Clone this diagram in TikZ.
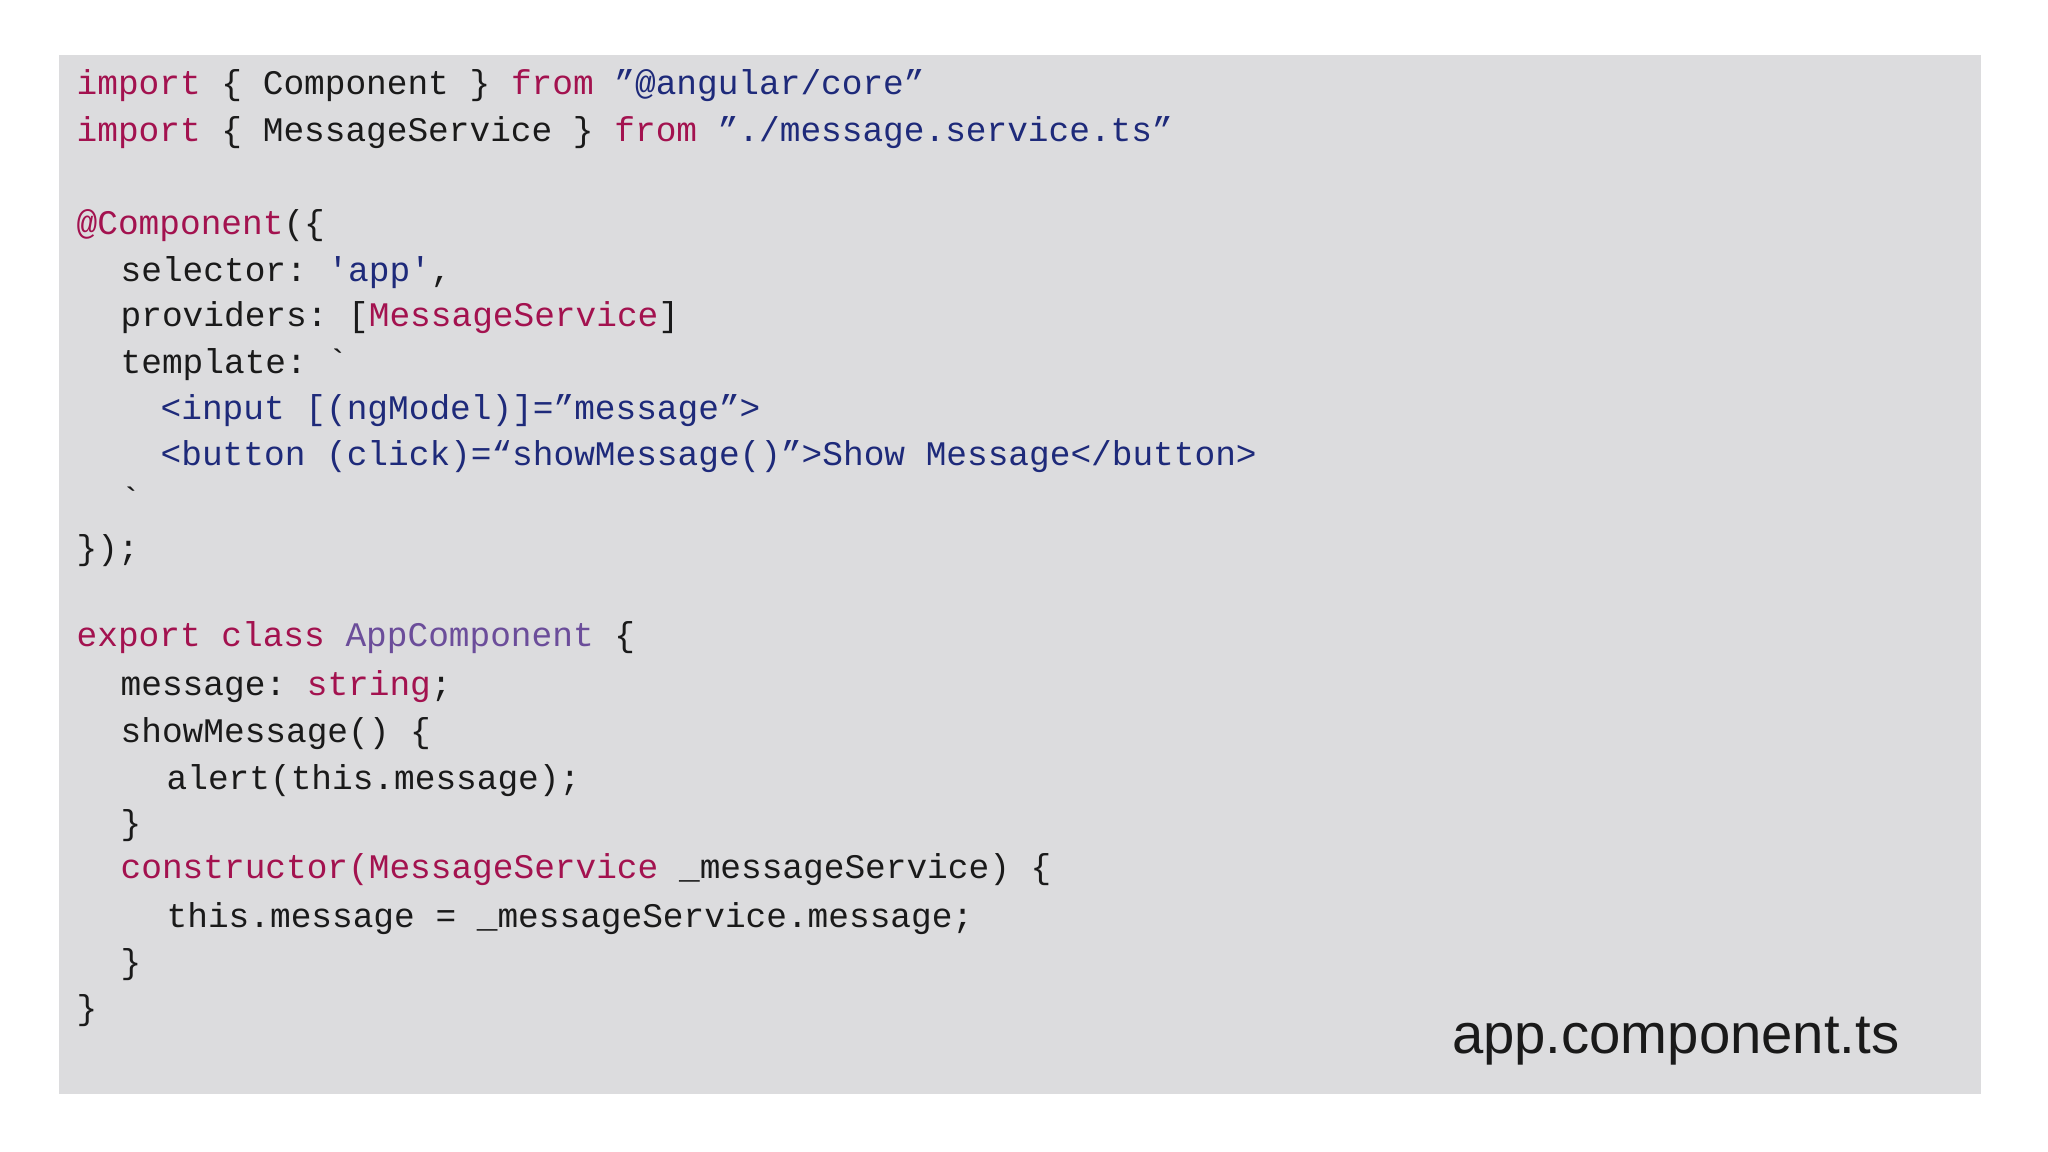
\documentclass[tikz,border=0pt]{standalone}
\usepackage{fontspec}
\setmainfont{Liberation Sans}
\setmonofont{Liberation Mono}
\usetikzlibrary{positioning}
\definecolor{panelgray}{HTML}{DCDCDE}
\definecolor{kwred}{HTML}{A3124F}
\definecolor{strblue}{HTML}{1E2A7A}
\definecolor{clspurple}{HTML}{6B4D9A}
\definecolor{codeblack}{HTML}{1A1A1A}
\newcommand{\kwd}[1]{\textcolor{kwred}{#1}}
\newcommand{\strg}[1]{\textcolor{strblue}{#1}}
\newcommand{\cls}[1]{\textcolor{clspurple}{#1}}

\begin{document}
\begin{tikzpicture}[
        x=0.01cm, y=0.01cm,
        code/.style = {anchor=base west, inner sep=0pt,
                       font=\ttfamily\fontsize{9.8}{11}\selectfont,
                       text=codeblack}
        ]
        \useasboundingbox (0,0) rectangle (2048,1152);
        \fill[panelgray] (59,58) rectangle (1981,1097);
        % imports
        \node[code] (l1) at (76,1057) {\kwd{import} \{ Component \} \kwd{from} \strg{”@angular/core”}};
        \node[code] (l2) at (76,1010) {\kwd{import} \{ MessageService \} \kwd{from} \strg{”./message.service.ts”}};
        % decorator
        \node[code] (l3) at (76,917) {\kwd{@Component}(\{};
        \node[code] (l4) at (120,870) {selector: \strg{'app'},};
        \node[code] (l5) at (120,825) {providers: [\kwd{MessageService}]};
        \node[code] (l6) at (120,778) {template: `};
        \node[code] (l7) at (160,732) {\strg{<input [(ngModel)]=”message”>}};
        \node[code] (l8) at (160,686) {\strg{<button (click)=“showMessage()”>Show Message</button>}};
        \node[code] (l9) at (120,640) {`};
        \node[code] (l10) at (76,592) {\});};
        % class
        \node[code] (l11) at (76,505) {\kwd{export class} \cls{AppComponent} \{};
        \node[code] (l12) at (120,456) {message: \kwd{string};};
        \node[code] (l13) at (120,409) {showMessage() \{};
        \node[code] (l14) at (166,362) {alert(this.message);};
        \node[code] (l15) at (120,317) {\}};
        \node[code] (l16) at (120,273) {\kwd{constructor(MessageService} \_messageService) \{};
        \node[code] (l17) at (166,224) {this.message = \_messageService.message;};
        \node[code] (l18) at (120,178) {\}};
        \node[code] (l19) at (76,132) {\}};
        % file name
        \node[anchor=base east, inner sep=0pt, text=codeblack,
              font=\fontsize{16}{18}\selectfont] (fname) at (1900,98) {app.component.ts};
    \end{tikzpicture}
\end{document}
